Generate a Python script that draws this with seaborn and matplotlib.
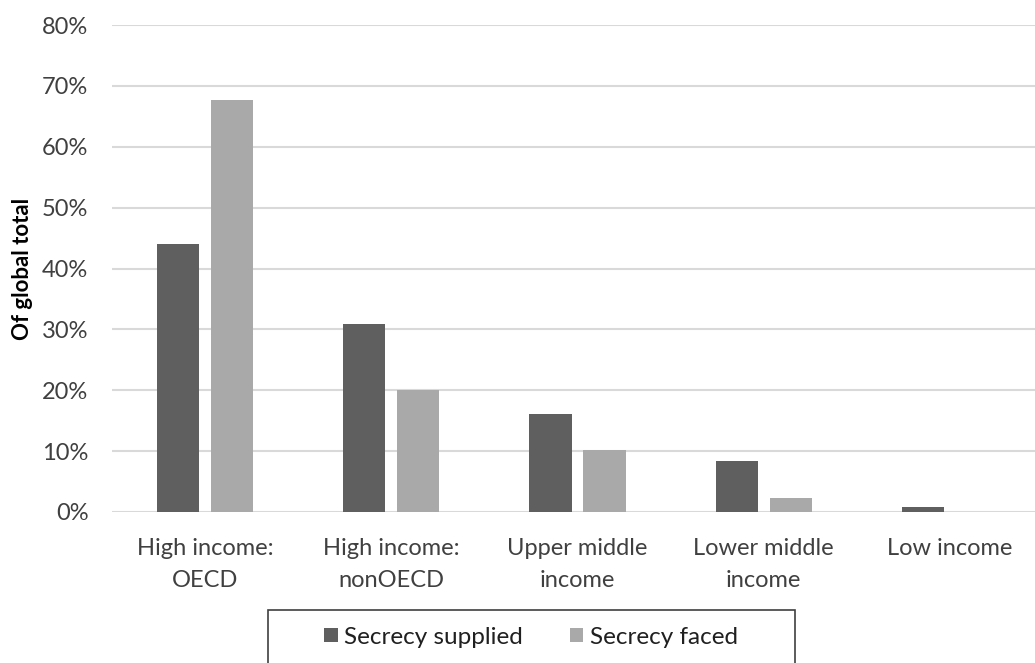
import matplotlib
matplotlib.use("Agg")
import matplotlib.pyplot as plt
from matplotlib.patches import Rectangle, Patch
from matplotlib.ticker import PercentFormatter, MultipleLocator
import seaborn as sns
import pandas as pd

categories = ["High income:\nOECD", "High income:\nnonOECD", "Upper middle\nincome",
              "Lower middle\nincome", "Low income"]
secrecy_supplied = [0.440, 0.309, 0.161, 0.084, 0.008]
secrecy_faced = [0.677, 0.200, 0.102, 0.023, 0.0005]
series_names = ["Secrecy supplied", "Secrecy faced"]
colors = ["#5f5f5f", "#a9a9a9"]

df = pd.DataFrame({
    "category": categories * 2,
    "series": [series_names[0]] * len(categories) + [series_names[1]] * len(categories),
    "value": secrecy_supplied + secrecy_faced,
})

sns.set_theme(style="white")
plt.rcParams["font.family"] = ["Lato", "DejaVu Sans"]

fig = plt.figure(figsize=(10.35, 6.63), dpi=100)
ax = fig.add_axes([112 / 1035, 1 - 512 / 663, 931 / 1035, (512 - 25) / 663])

sns.barplot(data=df, x="category", y="value", hue="series", palette=colors,
            width=0.58, gap=0.222, saturation=1, linewidth=0, ax=ax, legend=False)

ax.set_ylim(0, 0.8)
ax.yaxis.set_major_locator(MultipleLocator(0.1))
ax.yaxis.set_major_formatter(PercentFormatter(1.0, decimals=0))
ax.grid(axis="y", color="#d9d9d9", linewidth=1.5)
ax.set_axisbelow(True)
for s in ax.spines.values():
    s.set_visible(False)
ax.tick_params(axis="both", length=0, labelsize=17, colors="#404040")
ax.tick_params(axis="y", pad=17)
ax.tick_params(axis="x", pad=19)
for lbl in ax.get_xticklabels():
    lbl.set_linespacing(1.6)
ax.set_xlabel("")
ax.set_ylabel("Of global total", fontsize=16, fontweight="bold", color="#000000")
ax.yaxis.set_label_coords(-79 / 931, 0.5)

# Legend box along the bottom edge
fig.patches.append(Rectangle((268 / 1035, -0.05), (795 - 268) / 1035, 0.05 + (663 - 610) / 663,
                             transform=fig.transFigure, facecolor="white",
                             edgecolor="#404040", linewidth=1.2))
handles = [Patch(facecolor=c, edgecolor="none") for c in colors]
fig.legend(handles, series_names, loc="center", bbox_to_anchor=(531 / 1035, 1 - 637 / 663),
           ncol=2, frameon=False, fontsize=17.5, handlelength=0.55, handleheight=0.55,
           handletextpad=0.25, columnspacing=1.95, labelcolor="#202020")

fig.savefig("out.png", dpi=100)
